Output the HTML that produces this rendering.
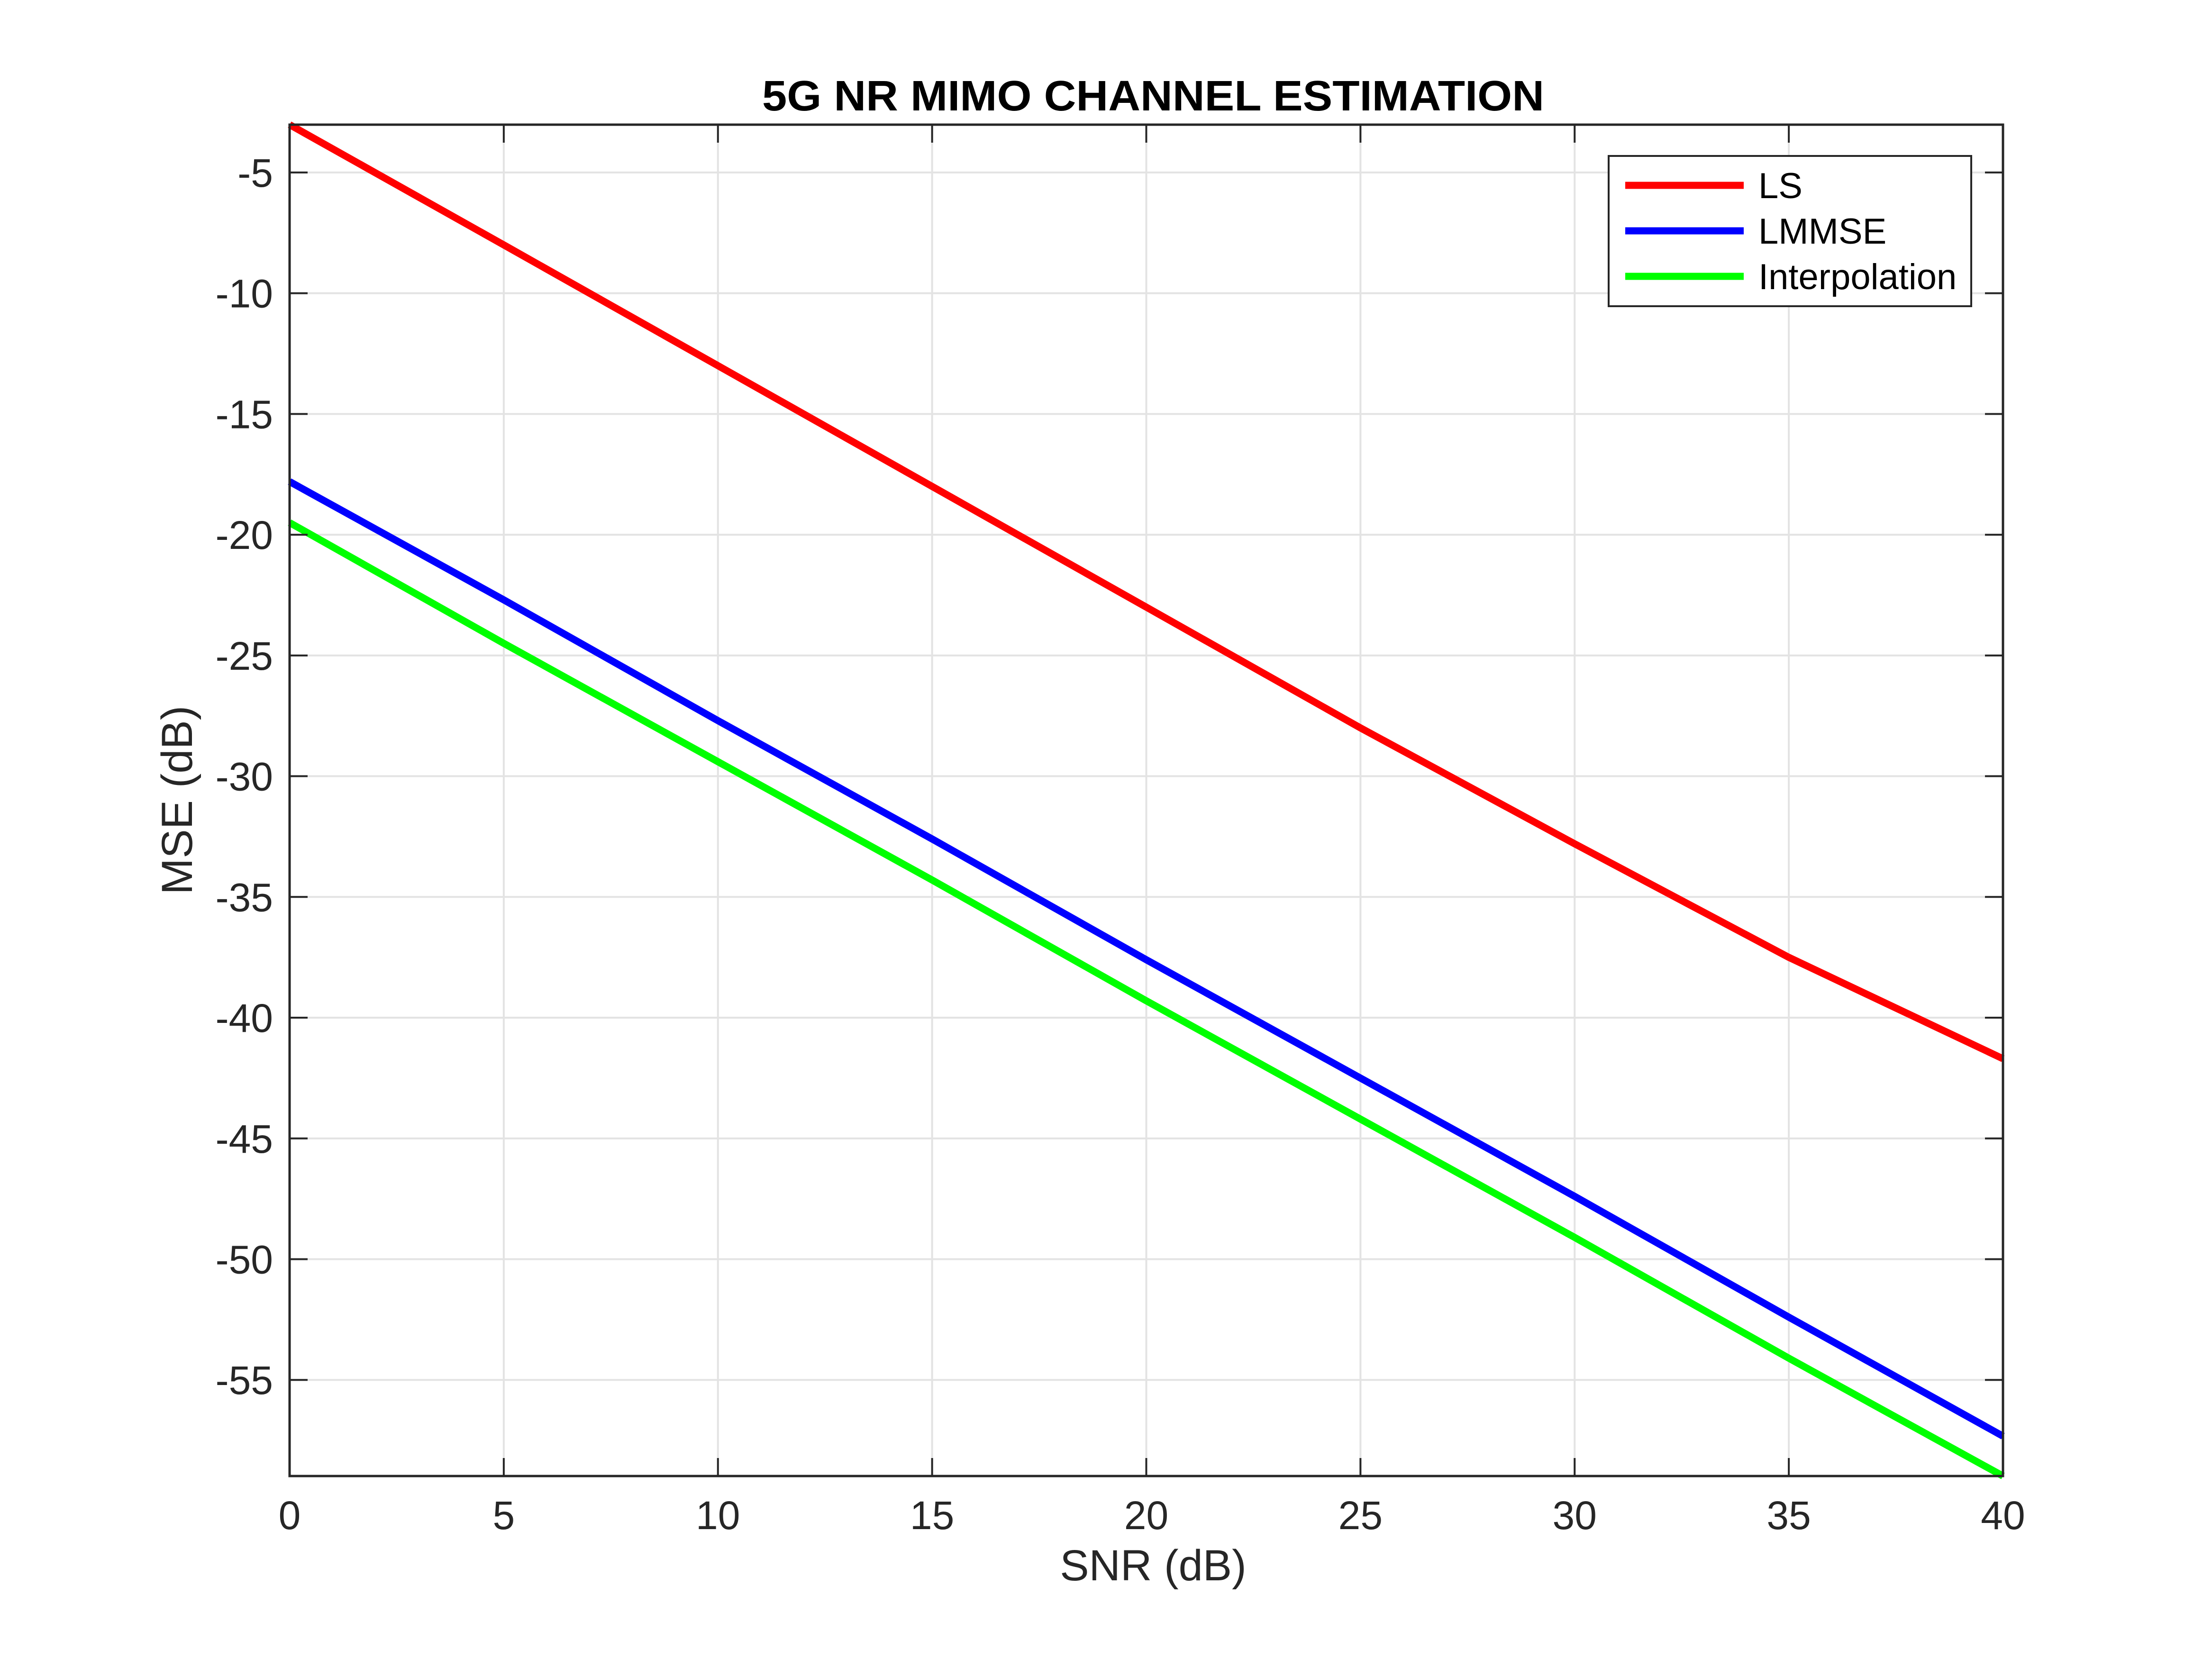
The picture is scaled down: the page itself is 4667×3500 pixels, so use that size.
<!DOCTYPE html>
<html><head><meta charset="utf-8"><style>
html,body{margin:0;padding:0;background:#fff;}
svg{display:block;}
text{font-family:"Liberation Sans",Arial,sans-serif;fill:#262626;}
</style></head><body>
<svg id="chart" width="4667" height="3500" viewBox="0 0 4667 3500" xmlns="http://www.w3.org/2000/svg">
<rect width="4667" height="3500" fill="#fff"/>
<g id="grid"></g>
<g id="series"></g>
<g id="axes"></g>
<text x="2433" y="233" text-anchor="middle" font-size="90" font-weight="bold" textLength="1650" lengthAdjust="spacingAndGlyphs" style="fill:#000">5G NR MIMO CHANNEL ESTIMATION</text>
<text x="2433" y="3334" text-anchor="middle" font-size="92">SNR (dB)</text>
<text transform="translate(405,1688) rotate(-90)" text-anchor="middle" font-size="92">MSE (dB)</text>
<g>
<rect x="3394" y="329" width="765" height="317" fill="#fff" stroke="#262626" stroke-width="4"/>
<line x1="3429" y1="391" x2="3679" y2="391" stroke="#ff0000" stroke-width="15"/>
<text x="3710" y="418" font-size="76" style="fill:#000">LS</text>
<line x1="3429" y1="487" x2="3679" y2="487" stroke="#0000ff" stroke-width="15"/>
<text x="3710" y="514" font-size="76" style="fill:#000">LMMSE</text>
<line x1="3429" y1="583" x2="3679" y2="583" stroke="#00ff00" stroke-width="15"/>
<text x="3710" y="610" font-size="76" style="fill:#000">Interpolation</text>
</g>
</svg>
<script>
const snr = [0, 5, 10, 15, 20, 25, 30, 35, 40];
const lsMse = [-3.02, -8.0, -13.0, -18.0, -23.0, -28.0, -32.8, -37.5, -41.7];
const lmmseMse = [-17.8, -22.7, -27.7, -32.6, -37.6, -42.5, -47.4, -52.4, -57.33];
const interpMse = [-19.5, -24.5, -29.4, -34.3, -39.3, -44.2, -49.1, -54.1, -58.98];
const xTicks = [0, 5, 10, 15, 20, 25, 30, 35, 40];
const yTicks = [-5, -10, -15, -20, -25, -30, -35, -40, -45, -50, -55];

const NS = 'http://www.w3.org/2000/svg';
const L = 611, R = 4226, T = 263, B = 3114;
const xMin = 0, xMax = 40, yMin = -58.98, yMax = -3.02;
function sx(v){ return L + (v - xMin) / (xMax - xMin) * (R - L); }
function sy(v){ return B - (v - yMin) / (yMax - yMin) * (B - T); }
function mk(tag, attrs, parent){
  const e = document.createElementNS(NS, tag);
  for (const k in attrs) e.setAttribute(k, attrs[k]);
  parent.appendChild(e);
  return e;
}
const grid = document.getElementById('grid');
const axes = document.getElementById('axes');
const series = document.getElementById('series');

xTicks.forEach(v => {
  const x = sx(v);
  const g = mk('line', {x1:x, y1:T, x2:x, y2:B, stroke:'#e3e3e3', 'stroke-width':4}, grid);
  
  
  const t1 = mk('line', {x1:x, y1:B, x2:x, y2:B-38, stroke:'#262626', 'stroke-width':4}, axes);
  
  
  const t2 = mk('line', {x1:x, y1:T, x2:x, y2:T+38, stroke:'#262626', 'stroke-width':4}, axes);
  
  
  const lb = mk('text', {x:x, y:3226, 'text-anchor':'middle', 'font-size':84}, axes);
  lb.textContent = String(v);
  
  
});
yTicks.forEach(v => {
  const y = sy(v);
  const g = mk('line', {x1:L, y1:y, x2:R, y2:y, stroke:'#e3e3e3', 'stroke-width':4}, grid);
  
  
  const t1 = mk('line', {x1:L, y1:y, x2:L+38, y2:y, stroke:'#262626', 'stroke-width':4}, axes);
  
  
  const t2 = mk('line', {x1:R, y1:y, x2:R-38, y2:y, stroke:'#262626', 'stroke-width':4}, axes);
  
  
  const lb = mk('text', {x:576, y:y+30, 'text-anchor':'end', 'font-size':84}, axes);
  lb.textContent = String(v);
  
  
});
const frame = mk('rect', {x:L, y:T, width:R-L, height:B-T, fill:'none', stroke:'#262626', 'stroke-width':5}, axes);



function drawLine(vals, color, name){
  const pts = snr.map((s, i) => sx(s).toFixed(1) + ',' + sy(vals[i]).toFixed(1)).join(' ');
  const p = mk('polyline', {points:pts, fill:'none', stroke:color, 'stroke-width':15, 'stroke-linejoin':'round'}, series);
  
  
}
drawLine(lsMse, '#ff0000', 'ls-line');
drawLine(lmmseMse, '#0000ff', 'lmmse-line');
drawLine(interpMse, '#00ff00', 'interpolation-line');
</script>
</body></html>
